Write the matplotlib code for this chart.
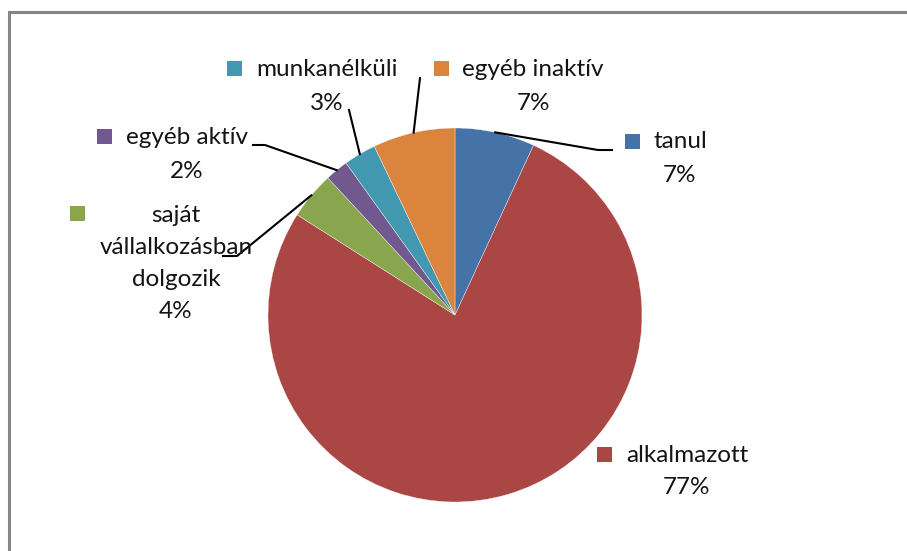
import numpy as np
import matplotlib
matplotlib.use("Agg")
import matplotlib.pyplot as plt
from matplotlib.patches import Rectangle

categories = ["tanul", "alkalmazott", "saját\nvállalkozásban\ndolgozik",
              "egyéb aktív", "munkanélküli", "egyéb inaktív"]
values = [6.9, 77.1, 4.1, 2.0, 2.8, 7.1]
colors = ["#4572A7", "#AA4643", "#89A54E", "#71588F", "#4198AF", "#DB843D"]

W, H = 907, 551
fig = plt.figure(figsize=(W / 100, H / 100), dpi=100)
ax = fig.add_axes([0, 0, 1, 1])
ax.set_xlim(0, W)
ax.set_ylim(0, H)
ax.set_aspect("equal")
ax.axis("off")

def Y(y):
    return H - y

# frame
ax.plot([9, 9, W + 5], [Y(H + 5), Y(12), Y(12)], color="#868686", lw=2.2,
        solid_joinstyle="miter", clip_on=False)

cx, cy, r = 455, 315, 187
wedges, _ = ax.pie(values, colors=colors, startangle=90, counterclock=False,
                   center=(cx, Y(cy)), radius=r, frame=True,
                   wedgeprops=dict(edgecolor="white", linewidth=0.25))
ax.set_xlim(0, W)
ax.set_ylim(0, H)
ax.axis("off")

font = dict(family=["Lato", "DejaVu Sans"], fontsize=17.5, color="#141414")

total = sum(values)
pcts = [f"{round(v / total * 100):d}%" for v in values]

layout = {
    0: dict(x=680, ys=[142, 175], key=(625, 134), path=[(598, 150), (612, 150)]),
    1: dict(x=687, ys=[455, 488], key=(597, 447), path=None),
    2: dict(x=176, ys=[215, 248, 280, 312], key=(70, 206), path=[(237, 256), (223, 256)]),
    3: dict(x=187, ys=[138, 172], key=(97, 129), path=[(265, 145), (253, 145)]),
    4: dict(x=327, ys=[70, 103], key=(227, 61), path=[(349, 110)]),
    5: dict(x=533, ys=[70, 103], key=(434, 61), path=[(420, 78)]),
}

for i, w in enumerate(wedges):
    L = layout[i]
    lines = categories[i].split("\n") + [pcts[i]]
    for line, yy in zip(lines, L["ys"]):
        ax.text(L["x"], Y(yy), line, ha="center", va="center", **font)
    kx, ky = L["key"]
    ax.add_patch(Rectangle((kx, Y(ky + 15)), 15, 15, color=colors[i], lw=0))
    if L["path"]:
        mid = np.deg2rad((w.theta1 + w.theta2) / 2)
        sx, sy = cx + r * np.cos(mid), Y(cy) + r * np.sin(mid)
        xs = [sx] + [p[0] for p in L["path"]]
        ys = [sy] + [Y(p[1]) for p in L["path"]]
        ax.plot(xs, ys, color="black", lw=1.5)

fig.savefig("out.png", dpi=100, facecolor="white")
